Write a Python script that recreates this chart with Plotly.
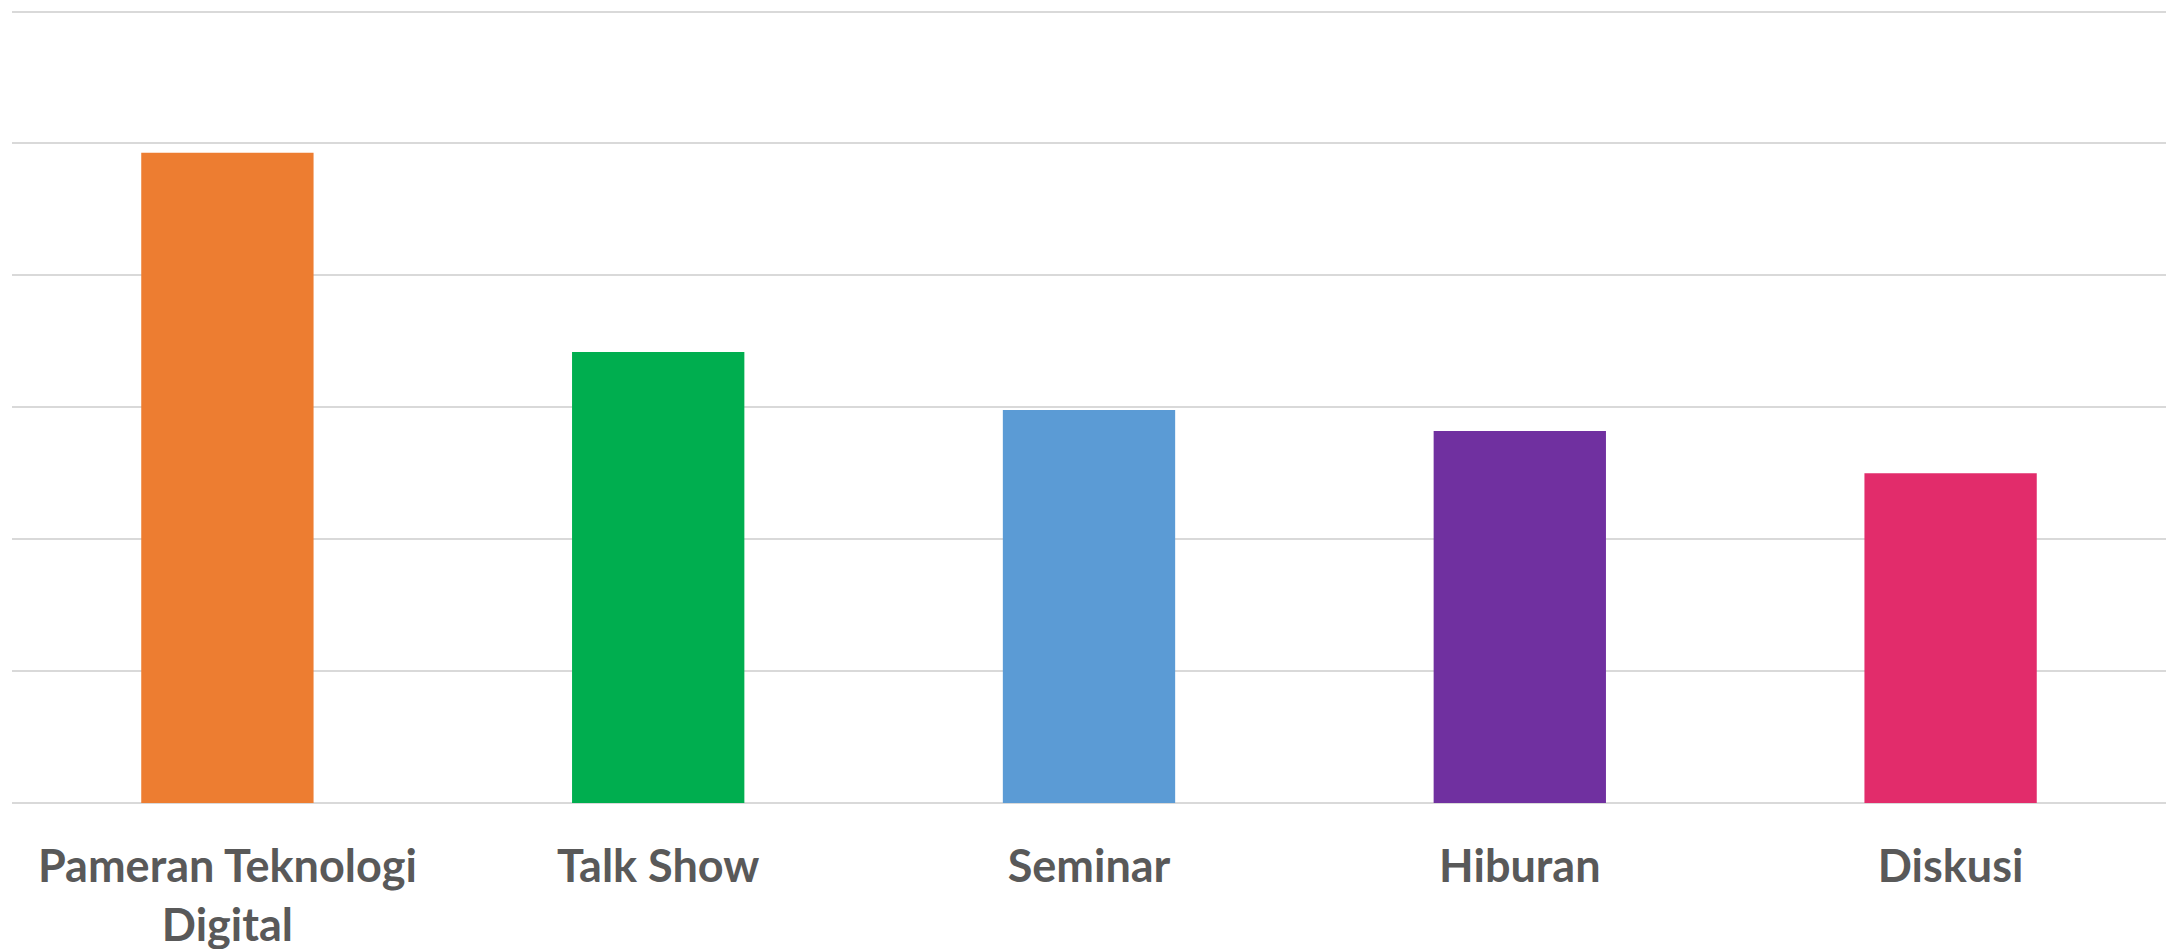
import plotly.graph_objects as go

categories = ["Pameran Teknologi<br>Digital", "Talk Show", "Seminar", "Hiburan", "Diskusi"]
values = [49.3, 34.2, 29.8, 28.2, 25.0]
colors = ["#ED7D31", "#00AE4F", "#5B9BD5", "#7030A0", "#E22C6B"]

fig = go.Figure(go.Bar(x=categories, y=values, marker=dict(color=colors, line=dict(width=0)),
                       hoverinfo="x+y"))

fig.update_layout(
    width=2176, height=949,
    margin=dict(l=12, r=10, t=10, b=146),
    paper_bgcolor="white", plot_bgcolor="white",
    bargap=0.6, showlegend=False,
    xaxis=dict(showgrid=False, showline=False, zeroline=False, ticks="", automargin=False,
               ticklabelstandoff=33,
               tickfont=dict(family="Lato", size=45, color="#595959", weight="bold")),
    yaxis=dict(range=[0, 60.12], dtick=10, tick0=0, showticklabels=False, showgrid=True,
               automargin=False,
               gridcolor="#D9D9D9", gridwidth=2, zeroline=True, zerolinecolor="#D9D9D9",
               zerolinewidth=2, showline=False),
)

fig.write_html(
    "out.html",
    config={"displayModeBar": False},
    post_script="document.documentElement.style.margin='0';document.body.style.margin='0';"
                "document.body.style.overflow='hidden';",
)
